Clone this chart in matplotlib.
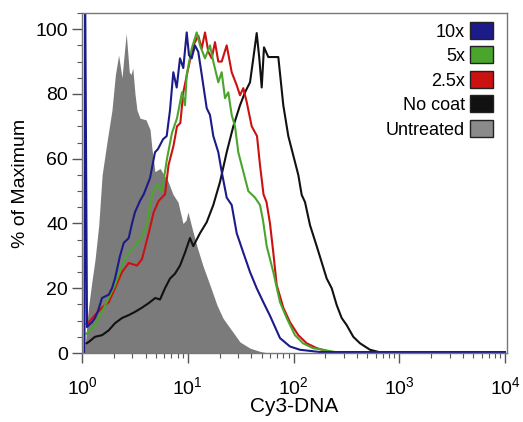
import matplotlib
matplotlib.use("Agg")
import matplotlib.pyplot as plt
from matplotlib.patches import Patch
from matplotlib.ticker import MultipleLocator, LogLocator

plt.rcParams['font.family'] = ['Liberation Sans', 'DejaVu Sans']

# Untreated (filled grey histogram)
untreated_x = [1.07, 1.12, 1.16, 1.24, 1.33, 1.44, 1.55, 1.72, 1.92, 2.07, 2.22, 2.39, 2.50, 2.62,
               2.80, 2.91, 3.02, 3.17, 3.31, 3.54, 4.03, 4.40, 4.59, 4.90, 5.47, 5.96, 6.51, 7.25,
               8.09, 9.02, 9.63, 10.05, 10.97, 12.2, 13.9, 16.2, 18.9, 21.5, 25.1, 31.2, 38.8,
               48.2, 57.4]
untreated_y = [2, 10, 14.8, 22, 29, 39.5, 55, 65, 75, 86, 92, 85, 92, 98.7, 86.7, 86, 88, 80, 75,
               72.5, 72, 69, 63, 56, 57, 55, 53, 49, 46.6, 40, 41, 43.5, 38.6, 33, 27, 21, 14.8,
               10.8, 7.7, 3.4, 1.5, 0.5, 0]

# 10x
x10_x = [1.056, 1.068, 1.115, 1.157, 1.243, 1.327, 1.417, 1.546, 1.789, 1.922, 2.051, 2.288, 2.480,
         2.765, 2.971, 3.171, 3.535, 3.832, 4.396, 4.901, 5.233, 5.834, 6.323, 6.795, 7.302, 7.862,
         8.448, 9.078, 9.775, 10.27, 10.90, 11.71, 12.58, 13.55, 15.11, 16.23, 17.44, 19.45, 20.94,
         23.35, 26.04, 29.03, 33.52, 38.80, 44.87, 51.81, 59.95, 74.52, 92.66, 115.2, 178.1, 10000]
x10_y = [0, 120, 8, 8.6, 9.5, 10.8, 13, 17, 18, 20, 23, 30, 34, 35.5, 40, 43.5, 47, 49, 54, 62, 63,
         66, 67, 75, 86.7, 82, 91, 88, 99, 92, 91, 95, 93, 86, 75.6, 73.5, 67, 62, 56, 48, 45.7,
         37, 31, 25, 20, 15.7, 11.5, 4.6, 2, 1, 0.3, 0.3]

# 5x
x5_x = [1.103, 1.157, 1.327, 1.546, 1.789, 2.051, 2.389, 2.765, 3.171, 3.693, 4.118, 4.592, 5.120,
        5.707, 6.365, 7.098, 7.914, 8.822, 9.419, 9.775, 10.90, 12.15, 13.06, 14.56, 16.23, 17.44,
        19.45, 20.94, 22.50, 24.18, 26.04, 27.98, 30.06, 33.52, 37.39, 43.24, 48.23, 51.47, 55.80,
        64.42, 74.52, 86.23, 103.3, 123.0, 152.9, 190.1, 246.9]
x5_y = [6, 6.5, 8.6, 12.7, 17, 21, 27, 31, 33, 36, 39.5, 49, 52, 50, 60, 68, 72.5, 80.5, 76.5, 86,
        94, 99, 95, 91, 95, 90, 83.6, 86.7, 78.7, 80.5, 73.5, 70, 62, 56, 50, 48, 45.7, 41, 33, 25,
        15.7, 10.8, 5.5, 3, 1.5, 1, 0.3]

# 2.5x
x25_x = [1.103, 1.157, 1.327, 1.546, 1.789, 2.051, 2.389, 2.765, 3.312, 3.693, 4.273, 4.764, 5.313,
         6.094, 6.577, 7.333, 7.914, 8.505, 9.078, 10.12, 11.28, 12.58, 13.55, 14.56, 15.65, 16.85,
         18.10, 19.45, 20.94, 23.35, 26.04, 29.03, 31.20, 33.52, 36.10, 40.25, 45.17, 48.23, 52.03,
         55.56, 59.95, 64.42, 69.36, 80.09, 92.66, 111.0, 133.3, 165.7, 221.4]
x25_y = [9, 9.5, 11.7, 14, 15.7, 20, 25, 27.8, 27, 29, 37, 43.5, 47, 49, 58, 64, 70, 71, 80.5, 88,
         95, 98, 94, 99, 93, 91, 96, 90, 90, 95, 86.7, 82.7, 79.6, 81.8, 77.5, 70, 67, 58, 49, 46.6,
         40, 31, 21, 14, 9.5, 5.5, 3, 1.5, 0.3]

# No coat
nocoat_x = [1.103, 1.157, 1.327, 1.546, 1.789, 2.051, 2.389, 2.765, 3.171, 3.693, 4.273, 4.933,
            5.465, 6.094, 6.795, 7.576, 8.448, 9.419, 10.50, 11.28, 13.06, 15.11, 17.44, 20.18,
            23.35, 26.96, 31.20, 34.79, 38.80, 41.68, 44.87, 47.50, 50.05, 52.60, 57.77, 64.42,
            71.83, 80.09, 89.30, 99.56, 111.0, 119.6, 128.5, 143.2, 165.7, 184.8, 206.0, 229.8,
            256.1, 285.6, 318.5, 367.7, 425.4, 528.9, 657.7]
nocoat_y = [3, 3.4, 5, 5.5, 7, 9.2, 10.8, 11.7, 12.7, 14, 15.4, 17, 16.5, 20, 23, 24.5, 27, 31,
            35.5, 33, 37, 40.4, 45.7, 52.8, 62, 70, 76.5, 80.5, 83.6, 91, 98.8, 91, 82, 94.4, 91.4,
            91.4, 91.4, 76.5, 67, 61, 55, 48.8, 46.6, 39.5, 33, 28, 23, 20, 14.8, 10.8, 8.6, 5, 3,
            1, 0.2]

labels = ['10x', '5x', '2.5x', 'No coat', 'Untreated']
colors = ['#1b1b8a', '#4aa52c', '#cc1111', '#111111', '#8a8a8a']

fig = plt.figure(figsize=(5.23, 4.22), dpi=100)
ax = fig.add_axes([82 / 523, 1 - 353 / 422, 425 / 523, 340 / 422])

ax.fill_between(untreated_x, untreated_y, 0, color='#7b7b7b', linewidth=0)
lw = 1.5
ax.plot(nocoat_x, nocoat_y, color=colors[3], lw=lw)
ax.plot(x25_x, x25_y, color=colors[2], lw=lw)
ax.plot(x5_x, x5_y, color=colors[1], lw=lw)
ax.plot(x10_x, x10_y, color=colors[0], lw=lw)

ax.set_xscale('log')
ax.set_xlim(1, 10 ** (425 / 105.75))
ax.set_ylim(0, 105)
ax.xaxis.set_major_locator(LogLocator(base=10, numticks=10))
ax.xaxis.set_minor_locator(LogLocator(base=10, subs=range(2, 10), numticks=50))
ax.yaxis.set_major_locator(MultipleLocator(20))
ax.yaxis.set_minor_locator(MultipleLocator(5))

for s in ax.spines.values():
    s.set_color('#777777')
    s.set_linewidth(1.0)
ax.tick_params(which='major', length=7, width=1, color='#555555', labelsize=14, pad=3)
ax.tick_params(axis='x', which='major', pad=10)
ax.tick_params(which='minor', length=3.5, width=0.8, color='#555555')

ax.set_xlabel('Cy3-DNA', fontsize=15, labelpad=-1)
ax.set_ylabel('% of Maximum', fontsize=14, labelpad=5)

handles = [Patch(facecolor=c, edgecolor='#222222', linewidth=1.0) for c in colors]
ax.legend(handles, labels, loc='upper right', bbox_to_anchor=(493 / 523, 1 - 22 / 422),
          bbox_transform=fig.transFigure, frameon=False, markerfirst=False,
          fontsize=13, handlelength=1.3, handleheight=1.05, handletextpad=0.25,
          labelspacing=0.33, borderpad=0, borderaxespad=0)

fig.savefig('out.png', dpi=100)
